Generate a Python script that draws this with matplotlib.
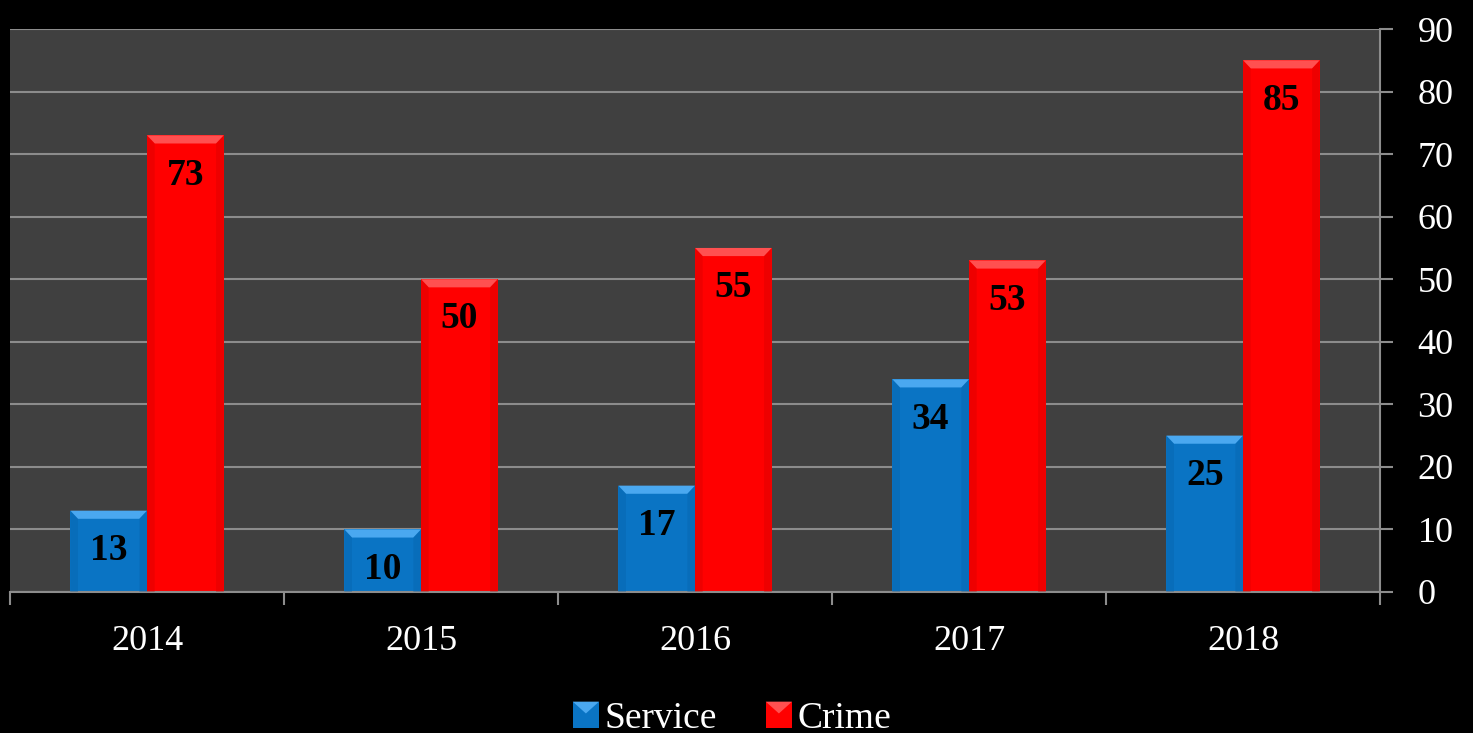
import matplotlib.pyplot as plt
from matplotlib.patches import Polygon, Rectangle
from matplotlib.legend_handler import HandlerPatch
import numpy as np

years = ['2014', '2015', '2016', '2017', '2018']
service = [13, 10, 17, 34, 25]
crime = [73, 50, 55, 53, 85]

BLUE = '#0a74c4'
BLUE_TOP = '#4aa8f0'
BLUE_SIDE = '#0660a8'
RED = '#ff0000'
RED_TOP = '#ff5050'
RED_SIDE = '#d00000'
FONT = 'Liberation Serif'

fig = plt.figure(figsize=(14.73, 7.33), dpi=100, facecolor='black')
ax = fig.add_axes([0.0068, 0.1924, 0.9301, 0.768])
ax.set_facecolor('#404040')

x = np.arange(len(years))
w = 0.28
ax.set_xlim(-0.5, len(years) - 0.5)
ax.set_ylim(0, 90)


def bevel(ax, bars, top, side):
    # fake the excel-style bevel on top of each bar
    bx = 0.028
    by = 1.3
    for r in bars:
        x0, y0 = r.get_x(), r.get_y()
        x1, y1 = x0 + r.get_width(), y0 + r.get_height()
        ax.add_patch(Polygon([(x0, y1), (x1, y1), (x1 - bx, y1 - by), (x0 + bx, y1 - by)],
                             closed=True, facecolor=top, edgecolor='none', zorder=3))
        ax.add_patch(Polygon([(x0, y0), (x0, y1), (x0 + bx, y1 - by), (x0 + bx, y0)],
                             closed=True, facecolor=side, edgecolor='none', zorder=3, alpha=0.35))
        ax.add_patch(Polygon([(x1, y0), (x1, y1), (x1 - bx, y1 - by), (x1 - bx, y0)],
                             closed=True, facecolor=side, edgecolor='none', zorder=3, alpha=0.35))


b1 = ax.bar(x - w / 2, service, w, color=BLUE, zorder=2)
b2 = ax.bar(x + w / 2, crime, w, color=RED, zorder=2)
bevel(ax, b1, BLUE_TOP, BLUE_SIDE)
bevel(ax, b2, RED_TOP, RED_SIDE)

for bars, vals in ((b1, service), (b2, crime)):
    for r, v in zip(bars, vals):
        ax.annotate(str(v), (r.get_x() + r.get_width() / 2, v), xytext=(0, -16),
                    textcoords='offset points', ha='center', va='top',
                    fontsize=27, fontweight='bold', family=FONT, color='black', zorder=4)

# grid and axes
ax.yaxis.tick_right()
ax.set_yticks(range(0, 91, 10))
ax.grid(axis='y', color='#8c8c8c', linewidth=1.5, zorder=1)
ax.tick_params(axis='y', which='major', length=9, width=1.5, color='#8c8c8c',
               labelsize=26, labelcolor='white', pad=18)
for lab in ax.get_yticklabels():
    lab.set_family(FONT)

ax.set_xticks(x)
ax.set_xticklabels(years, family=FONT, fontsize=26, color='white')
ax.set_xticks(np.arange(-0.5, len(years)), minor=True)
ax.tick_params(axis='x', which='major', length=0, pad=24)
ax.tick_params(axis='x', which='minor', length=9, width=1.5, color='#8c8c8c')

for s in ['top', 'left']:
    ax.spines[s].set_visible(False)
ax.spines['right'].set_color('#8c8c8c')
ax.spines['right'].set_linewidth(1.5)
ax.spines['bottom'].set_color('#8c8c8c')
ax.spines['bottom'].set_linewidth(1.5)


class BevelHandler(HandlerPatch):
    def __init__(self, top, **kw):
        super().__init__(**kw)
        self.top = top

    def create_artists(self, legend, orig_handle, xdescent, ydescent, width, height, fontsize, trans):
        s = height
        x0 = -xdescent + (width - s) / 2
        y0 = -ydescent
        base = Rectangle((x0, y0), s, s, facecolor=orig_handle.get_facecolor(), edgecolor='none', transform=trans)
        b = s * 0.45
        tri = Polygon([(x0, y0 + s), (x0 + s, y0 + s), (x0 + s / 2, y0 + s - b)], closed=True,
                      facecolor=self.top, edgecolor='none', transform=trans)
        return [base, tri]


h1 = Rectangle((0, 0), 1, 1, facecolor=BLUE)
h2 = Rectangle((0, 0), 1, 1, facecolor=RED)
fig.legend([h1, h2], ['Service', 'Crime'], loc='lower center', bbox_to_anchor=(0.497, -0.05),
           ncol=2, frameon=False, prop={'family': FONT, 'size': 27}, labelcolor='white',
           handlelength=0.7, handleheight=0.7, handletextpad=0.15, columnspacing=1.3,
           handler_map={h1: BevelHandler(BLUE_TOP), h2: BevelHandler(RED_TOP)})

fig.savefig('out.png', dpi=100, facecolor='black')
